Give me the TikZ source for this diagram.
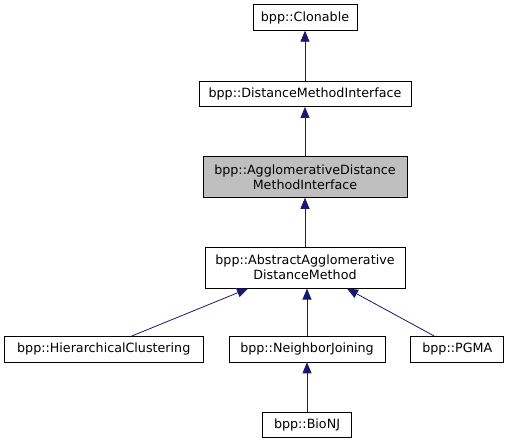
\documentclass[tikz,border=0pt]{standalone}
\usepackage{fontspec}
\setmainfont{DejaVu Sans}
\usetikzlibrary{positioning, arrows.meta}
\definecolor{EdgeBlue}{RGB}{25,25,112}
\definecolor{FocusGray}{RGB}{191,191,191}
\tikzset{
  classbox/.style={rectangle, draw=black, fill=white, line width=0.8pt, minimum height=25.5pt, inner sep=2pt, font=\fontsize{12.7}{15}\selectfont, align=center},
  twolinebox/.style={classbox, minimum height=41pt},
  focusbox/.style={twolinebox, fill=FocusGray},
  inherit/.style={-{Triangle[length=11pt, width=9pt]}, line width=0.8pt, EdgeBlue}
}
\begin{document}
\begin{tikzpicture}[x=1pt, y=1pt, node distance=49pt]
  \useasboundingbox (0,0) rectangle (509,-440);

  \node[classbox, minimum width=104pt] (clonable) at (305,-17.5) {bpp::Clonable};
  \node[classbox, minimum width=212pt, below=50pt of clonable] (dmi) {bpp::DistanceMethodInterface};
  \node[focusbox, minimum width=204pt, below=of dmi] (admi) {bpp::AgglomerativeDistance\\MethodInterface};
  \node[twolinebox, minimum width=200pt, below=of admi] (aadm) {bpp::AbstractAgglomerative\\DistanceMethod};

  \node[classbox, minimum width=156pt, below=47.5pt of aadm, xshift=2pt] (nj) {bpp::NeighborJoining};
  \node[classbox, minimum width=199pt, left=25pt of nj] (hc) {bpp::HierarchicalClustering};
  \node[classbox, minimum width=93pt, right=25pt of nj] (pgma) {bpp::PGMA};
  \node[classbox, minimum width=89pt, below=49.5pt of nj] (bionj) {bpp::BioNJ};

  \draw[inherit] (dmi) -- (clonable);
  \draw[inherit] (admi) -- (dmi);
  \draw[inherit] (aadm) -- (admi);
  \draw[inherit] ([xshift=28pt]hc.north) -- ([xshift=-57pt]aadm.south);
  \draw[inherit] (nj) -- (nj |- aadm.south);
  \draw[inherit] ([xshift=-23pt]pgma.north) -- ([xshift=42pt]aadm.south);
  \draw[inherit] (bionj) -- (nj);
\end{tikzpicture}
\end{document}
